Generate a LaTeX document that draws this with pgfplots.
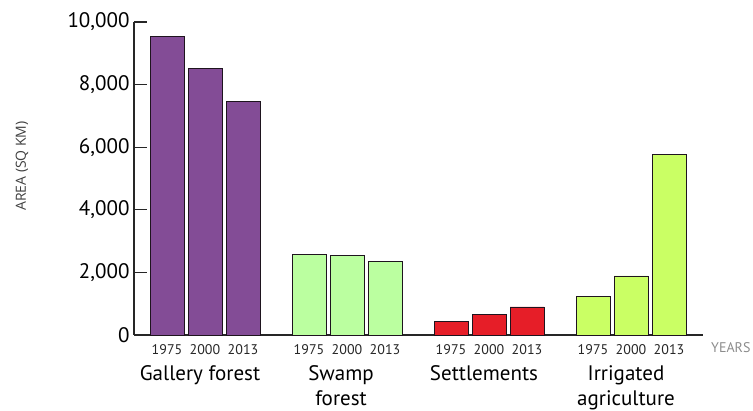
\documentclass[border=0pt]{standalone}
\usepackage{fontspec}
\setmainfont{PT Sans}
\newfontfamily\labelfont{Open Sans}
\usepackage{pgfplots}
\pgfplotsset{compat=1.18}
\definecolor{gallery}{RGB}{131,76,150}
\definecolor{swamp}{RGB}{187,255,160}
\definecolor{settle}{RGB}{230,30,40}
\definecolor{irrig}{RGB}{202,255,100}
\definecolor{edge}{RGB}{30,20,30}

\begin{document}
\begin{tikzpicture}[x=1pt,y=1pt]
\useasboundingbox (0,0) rectangle (753,411);
\begin{axis}[
    at={(134pt,76pt)}, anchor=origin,
    scale only axis, width=569pt, height=313pt,
    xmin=134, xmax=703, ymin=0, ymax=10000,
    axis x line=bottom, axis y line=left,
    axis line style={-, line width=1.3pt, black!85},
    ytick={0,2000,...,10000},
    scaled y ticks=false,
    yticklabel style={font=\fontsize{21}{22}\selectfont, xshift=-1pt},
    /pgf/number format/assume math mode=true,
    /pgf/number format/1000 sep={,},
    y tick style={line width=1.3pt, black!85},
    ytick align=inside, major tick length=13pt,
    xtick={167,205,243,309,347,385,451,489,527,593,631,669},
    xticklabels={1975,2000,2013,1975,2000,2013,1975,2000,2013,1975,2000,2013},
    xticklabel style={font=\fontsize{14}{15}\selectfont, text=black!85},
    x tick style={draw=none},
    extra x ticks={276,418,560,703},
    extra x tick labels={},
    extra x tick style={tick style={draw=black!85, line width=1.3pt}, major tick length=7pt, xtick align=inside},
    bar width=34,
    clip=false,
]
% Gallery forest, Swamp forest, Settlements, Irrigated agriculture (1975, 2000, 2013)
\addplot[ybar, fill=gallery, draw=edge, line width=0.9pt] coordinates {(167,9550) (205,8500) (243,7450)};
\addplot[ybar, fill=swamp, draw=edge, line width=0.9pt] coordinates {(309,2580) (347,2555) (385,2355)};
\addplot[ybar, fill=settle, draw=edge, line width=0.9pt] coordinates {(451,445) (489,660) (527,895)};
\addplot[ybar, fill=irrig, draw=edge, line width=0.9pt] coordinates {(593,1235) (631,1885) (669,5780)};
\end{axis}
\begin{scope}[every node/.style={font=\fontsize{21}{25}\selectfont, align=center, anchor=north, inner sep=0pt}]
\node at (200,46) {Gallery forest};
\node at (341,46) {Swamp\\forest};
\node at (484,46) {Settlements};
\node at (626,46) {Irrigated\\agriculture};
\end{scope}
\node[font=\fontsize{14}{15}\selectfont, text=black!45, anchor=west, inner sep=0pt] at (711,63) {YEARS};
\node[font=\labelfont\fontsize{14}{15}\selectfont, text=black!75, rotate=90, inner sep=0pt] at (22,245) {AREA (SQ KM)};
\end{tikzpicture}
\end{document}
